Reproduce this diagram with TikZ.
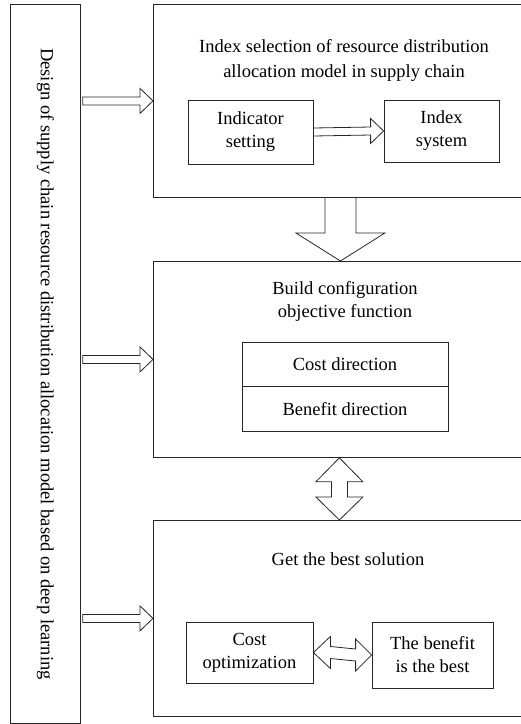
\documentclass[tikz,border=0pt]{standalone}
\usepackage{fontspec}
\setmainfont{Liberation Serif}
\usetikzlibrary{positioning,calc}
\tikzset{
  box/.style={draw=black!85, line width=0.8pt, inner sep=0pt, anchor=north west},
  inner/.style={draw=black!85, line width=0.8pt, inner sep=0pt, align=center},
  fatright/.style={draw=black!85, line width=0.8pt, line join=miter, to path={
    ($(\tikztostart)+(0,-4)$) -- ($(\tikztotarget)+(-13,-4)$) -- ($(\tikztotarget)+(-13,-12.5)$)
    -- (\tikztotarget) -- ($(\tikztotarget)+(-13,12.5)$) -- ($(\tikztotarget)+(-13,4)$)
    -- ($(\tikztostart)+(0,4)$) -- cycle}},
  fatdown/.style={draw=black!85, line width=0.8pt, to path={
    ($(\tikztostart)+(15.5,0)$) -- ($(\tikztotarget)+(15.5,-28)$) -- ($(\tikztotarget)+(44.5,-28)$)
    -- (\tikztotarget) -- ($(\tikztotarget)+(-44.5,-28)$) -- ($(\tikztotarget)+(-15.5,-28)$)
    -- ($(\tikztostart)+(-15.5,0)$)}},
  fatupdown/.style={draw=black!85, line width=0.8pt, to path={
    (\tikztostart) -- ($(\tikztostart)+(23.5,24)$) -- ($(\tikztostart)+(8,24)$)
    -- ($(\tikztotarget)+(8,-23)$) -- ($(\tikztotarget)+(23.5,-23)$) -- (\tikztotarget)
    -- ($(\tikztotarget)+(-23.5,-23)$) -- ($(\tikztotarget)+(-8,-23)$)
    -- ($(\tikztostart)+(-8,24)$) -- ($(\tikztostart)+(-23.5,24)$) -- cycle}},
  fatleftright/.style={draw=black!85, line width=0.8pt, to path={
    (\tikztostart) -- ($(\tikztostart)+(17,-16)$) -- ($(\tikztostart)+(17,-6)$)
    -- ($(\tikztotarget)+(-16,-6)$) -- ($(\tikztotarget)+(-16,-16)$) -- (\tikztotarget)
    -- ($(\tikztotarget)+(-16,16)$) -- ($(\tikztotarget)+(-16,6)$)
    -- ($(\tikztostart)+(17,6)$) -- ($(\tikztostart)+(17,16)$) -- cycle}}
}
\begin{document}
\begin{tikzpicture}[x=1pt, y=-1pt, font=\fontsize{18.5}{23}\selectfont]
\useasboundingbox (0,0) rectangle (521,724);
\node[box, minimum width=70pt, minimum height=719pt] (design) at (10,4) {};
\node[rotate=-90] (designtext) at (design.center) {Design of supply chain resource distribution allocation model based on deep learning};

\node[box, minimum width=384pt, minimum height=193pt] (idxbox) at (153,4) {};
\node[box, minimum width=384pt, minimum height=196pt] (cfgbox) at (153,261) {};
\node[box, minimum width=384pt, minimum height=196pt] (bestbox) at (153,520) {};

\node[align=center, font=\fontsize{18.5}{25}\selectfont] (idxtitle) at (344,60) {Index selection of resource distribution\\allocation model in supply chain};
\node[inner, minimum width=125pt, minimum height=64pt] (indset) at (250.5,132) {Indicator\\setting};
\node[inner, minimum width=115pt, minimum height=62pt] (idxsys) at (441.5,131) {Index\\system};

\node[align=center] (cfgtitle) at (345,301) {Build configuration\\objective function};
\node[inner, minimum width=206pt, minimum height=44pt] (costdir) at (345,364) {Cost direction};
\node[inner, minimum width=206pt, minimum height=45pt, below=0pt of costdir] (benefitdir) {Benefit direction};

\node (besttitle) at (348,559) {Get the best solution};
\node[inner, minimum width=127pt, minimum height=61pt] (costopt) at (249.5,652.5) {Cost\\optimization};
\node[inner, minimum width=121pt, minimum height=66pt] (benefit) at (432.5,655) {The benefit\\is the best};

\draw[fatright] ([xshift=2pt]design.east |- idxbox.west) to (idxbox.west);
\draw[fatright] ([xshift=2pt]design.east |- cfgbox.west) to (cfgbox.west);
\draw[fatright] ([xshift=2pt]design.east |- bestbox.west) to (bestbox.west);
\draw[fatright] (indset.east) to (idxsys.west);
\draw[fatdown] ([xshift=-5pt]idxbox.south) to ([xshift=-5pt]cfgbox.north);
\draw[fatupdown] ([xshift=-6pt]cfgbox.south) to ([xshift=-6pt]bestbox.north);
\draw[fatleftright] (costopt.east) to (benefit.west);
\end{tikzpicture}
\end{document}
